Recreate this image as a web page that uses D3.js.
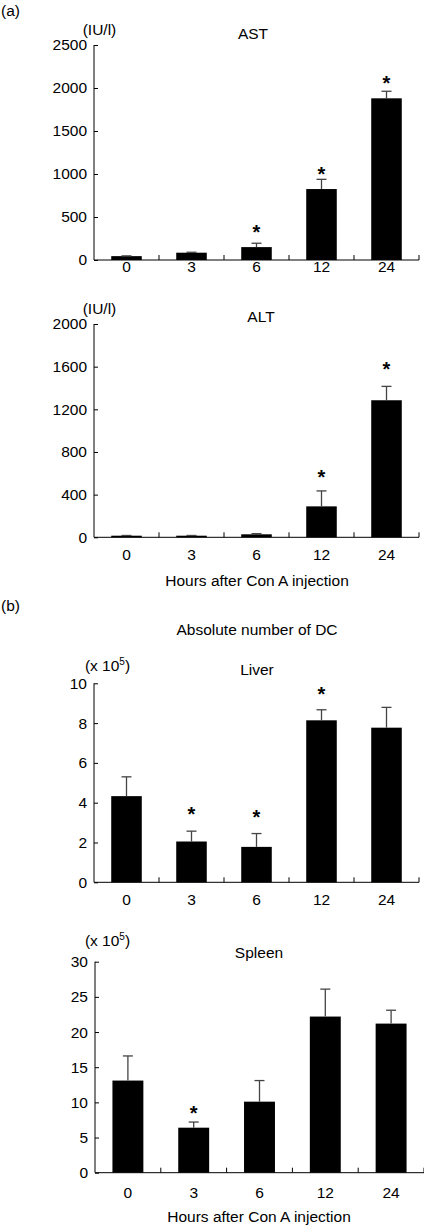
<!DOCTYPE html>
<html>
<head>
<meta charset="utf-8">
<script src="https://cdn.jsdelivr.net/npm/d3@7"></script>
<style>
  html, body { margin: 0; padding: 0; background: #fff; }
  svg { display: block; }
  text { font-family: "Liberation Sans", Arial, Helvetica, sans-serif; fill: #000; }
</style>
</head>
<body>
<svg id="chart" width="424" height="1227"></svg>
<script>
// ---------- data ----------
const categories = ["0", "3", "6", "12", "24"];

const astMean = [45, 85, 150, 825, 1880];
const astSD   = [3, 5, 45, 113, 82];
const astStar = [null, null, 376, 1055, 2105];
const astTicks = [0, 500, 1000, 1500, 2000, 2500];

const altMean = [15, 15, 28, 290, 1285];
const altSD   = [2, 2, 6, 145, 130];
const altStar = [null, null, null, 606, 1616];
const altTicks = [0, 400, 800, 1200, 1600, 2000];

const livMean = [4.33, 2.05, 1.78, 8.14, 7.77];
const livSD   = [0.97, 0.52, 0.67, 0.53, 1.02];
const livStar = [null, 3.68, 3.5, 9.71, null];
const livTicks = [0, 2, 4, 6, 8, 10];

const splMean = [13.1, 6.4, 10.1, 22.2, 21.2];
const splSD   = [3.5, 0.8, 3.0, 3.9, 1.9];
const splStar = [null, 9.06, null, null, null];
const splTicks = [0, 5, 10, 15, 20, 25, 30];

const svg = d3.select("#chart");
const FS = 15.5;

function panel(cfg) {
  const g = svg.append("g");
  const x = d3.scaleBand().domain(categories)
    .range([cfg.x0, cfg.x1]).paddingInner(0.53).paddingOuter(0.265);
  const y = d3.scaleLinear().domain([0, d3.max(cfg.ticks)]).range([cfg.yb, cfg.yt]);

  // bars
  g.selectAll("rect.bar").data(cfg.mean).join("rect")
    .attr("x", (d, i) => x(categories[i]))
    .attr("width", x.bandwidth())
    .attr("y", d => y(d))
    .attr("height", d => y(0) - y(d))
    .attr("fill", "#000");

  // error bars
  const eb = g.selectAll("g.err").data(cfg.mean).join("g");
  eb.append("line")
    .attr("x1", (d, i) => x(categories[i]) + x.bandwidth() / 2)
    .attr("x2", (d, i) => x(categories[i]) + x.bandwidth() / 2)
    .attr("y1", d => y(d))
    .attr("y2", (d, i) => y(d + cfg.sd[i]))
    .attr("stroke", "#444").attr("stroke-width", 1.3);
  eb.append("line")
    .attr("x1", (d, i) => x(categories[i]) + x.bandwidth() / 2 - 5)
    .attr("x2", (d, i) => x(categories[i]) + x.bandwidth() / 2 + 5)
    .attr("y1", (d, i) => y(d + cfg.sd[i]))
    .attr("y2", (d, i) => y(d + cfg.sd[i]))
    .attr("stroke", "#444").attr("stroke-width", 1.3);

  // asterisks
  g.selectAll("text.star").data(cfg.star.map((s, i) => ({s, i})).filter(d => d.s != null))
    .join("text")
    .attr("x", d => x(categories[d.i]) + x.bandwidth() / 2)
    .attr("y", d => y(d.s) + 11.5)
    .attr("text-anchor", "middle")
    .attr("font-size", 20)
    .attr("font-weight", "bold")
    .text("*");

  // y axis
  const ya = d3.axisRight(y).tickValues(cfg.ticks).tickSize(4).tickFormat(d3.format("d"));
  const yg = g.append("g").attr("transform", `translate(${cfg.x0},0)`).call(ya);
  yg.select(".domain").attr("d", `M0,${cfg.yt}V${cfg.yb}`).attr("stroke", "#000");
  yg.selectAll(".tick line").attr("stroke", "#000");
  yg.selectAll(".tick text").attr("x", -7).attr("text-anchor", "end")
    .attr("font-size", FS).attr("font-family", "Liberation Sans, Arial, sans-serif");

  // x axis
  const xa = d3.axisBottom(x).tickSize(0).tickPadding(9);
  const xg = g.append("g").attr("transform", `translate(0,${cfg.yb})`).call(xa);
  xg.select(".domain").attr("d", `M${cfg.x0},0H${cfg.x1}`).attr("stroke", "#000");
  xg.selectAll(".tick text").attr("font-size", FS).attr("font-family", "Liberation Sans, Arial, sans-serif")
    .attr("dy", null).attr("y", cfg.xlab - cfg.yb);
  // boundary ticks pointing up
  g.selectAll("line.bt").data(categories).join("line")
    .attr("x1", (d, i) => cfg.x0 + (i + 1) * x.step())
    .attr("x2", (d, i) => cfg.x0 + (i + 1) * x.step())
    .attr("y1", cfg.yb).attr("y2", cfg.yb - 5)
    .attr("stroke", "#000");

  // unit label
  const u = g.append("text").attr("x", cfg.unitX).attr("y", cfg.unitY)
    .attr("text-anchor", "middle").attr("font-size", FS);
  if (cfg.sup) {
    u.append("tspan").text(cfg.unit);
    u.append("tspan").attr("font-size", 10).attr("dy", -6).text(cfg.sup);
    u.append("tspan").attr("dy", 6).text(")");
  } else {
    u.text(cfg.unit);
  }
  // title
  g.append("text").attr("x", cfg.titleX).attr("y", cfg.titleY)
    .attr("text-anchor", "middle").attr("font-size", FS).text(cfg.title);
}

panel({mean: astMean, sd: astSD, star: astStar, ticks: astTicks,
  x0: 94, x1: 419, yt: 45, yb: 260, xlab: 272,
  unit: "(IU/l)", unitX: 99.5, unitY: 35, title: "AST", titleX: 253, titleY: 39});

panel({mean: altMean, sd: altSD, star: altStar, ticks: altTicks,
  x0: 94, x1: 419, yt: 324, yb: 537.3, xlab: 560.5,
  unit: "(IU/l)", unitX: 99.5, unitY: 314, title: "ALT", titleX: 261, titleY: 321.7});

panel({mean: livMean, sd: livSD, star: livStar, ticks: livTicks,
  x0: 94, x1: 419, yt: 683.3, yb: 882.3, xlab: 905.5,
  unit: "(x 10", sup: "5", unitX: 107.5, unitY: 671, title: "Liver", titleX: 257, titleY: 675});

panel({mean: splMean, sd: splSD, star: splStar, ticks: splTicks,
  x0: 95, x1: 424, yt: 961.7, yb: 1172.7, xlab: 1198,
  unit: "(x 10", sup: "5", unitX: 107.5, unitY: 946, title: "Spleen", titleX: 259, titleY: 958.3});

// free texts
svg.append("text").attr("x", 1).attr("y", 16).attr("font-size", FS).text("(a)");
svg.append("text").attr("x", 257).attr("y", 585.5).attr("text-anchor", "middle").attr("font-size", FS)
  .text("Hours after Con A injection");
svg.append("text").attr("x", 1).attr("y", 611).attr("font-size", FS).text("(b)");
svg.append("text").attr("x", 257).attr("y", 635).attr("text-anchor", "middle").attr("font-size", FS)
  .text("Absolute number of DC");
svg.append("text").attr("x", 259).attr("y", 1222).attr("text-anchor", "middle").attr("font-size", FS)
  .text("Hours after Con A injection");
</script>
</body>
</html>
